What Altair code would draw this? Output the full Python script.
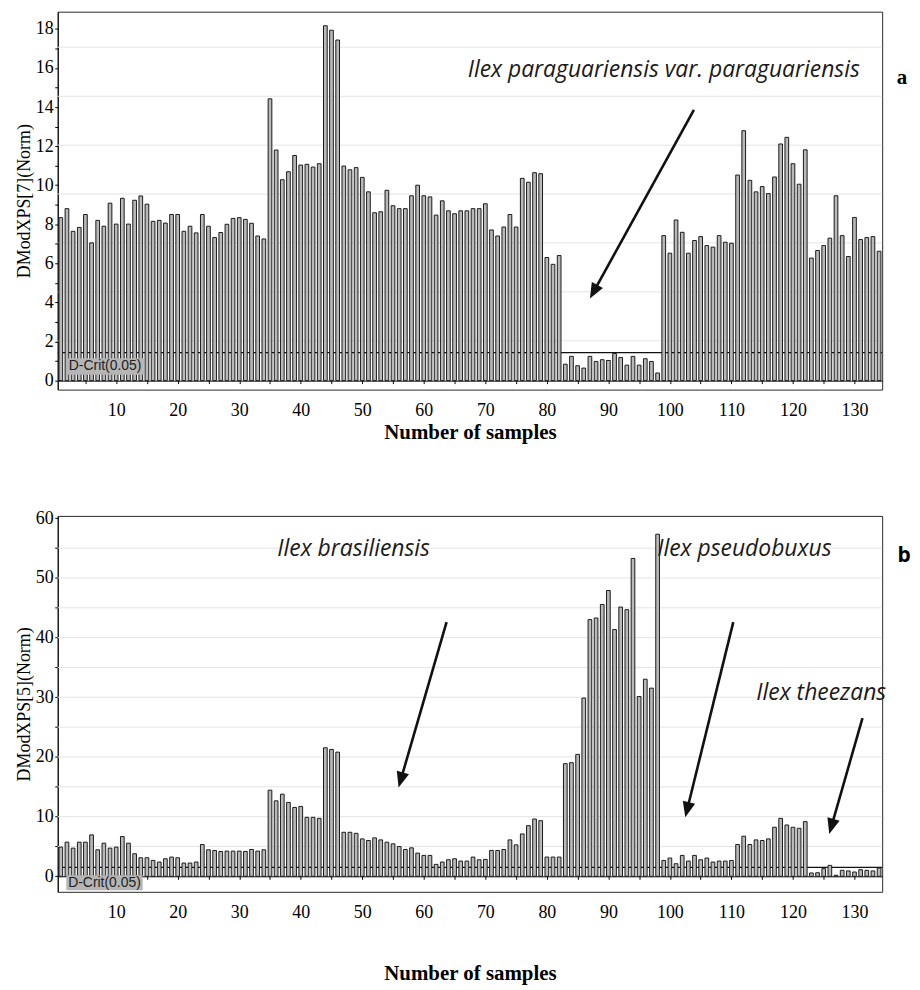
import math
import altair as alt
import pandas as pd

# ---------------- data ----------------
samples = list(range(1, 135))

dmod_a = [
    8.34, 8.80, 7.64, 7.84, 8.50, 7.05, 8.20, 7.90, 9.08, 8.01,
    9.33, 8.01, 9.23, 9.45, 9.03, 8.15, 8.20, 8.06, 8.50, 8.50,
    7.64, 7.90, 7.56, 8.50, 7.90, 7.32, 7.58, 8.00, 8.30, 8.34,
    8.25, 8.05, 7.40, 7.25, 14.42, 11.80, 10.28, 10.69, 11.52, 11.03,
    11.07, 10.93, 11.10, 18.16, 17.93, 17.43, 10.98, 10.79, 10.90, 10.40,
    9.66, 8.59, 8.64, 9.74, 8.95, 8.80, 8.80, 9.46, 10.00, 9.46,
    9.40, 8.47, 9.20, 8.69, 8.54, 8.69, 8.69, 8.80, 8.80, 9.05,
    7.71, 7.40, 7.86, 8.50, 7.86, 10.35, 10.15, 10.64, 10.59, 6.30,
    5.95, 6.40, 0.84, 1.24, 0.76, 0.64, 1.24, 0.98, 1.07, 1.03,
    1.39, 1.18, 0.79, 1.24, 0.79, 1.12, 0.98, 0.39, 7.42, 6.52,
    8.22, 7.59, 6.52, 7.17, 7.37, 6.91, 6.83, 7.42, 7.08, 7.03,
    10.52, 12.79, 10.25, 9.66, 9.93, 9.57, 10.42, 12.11, 12.45, 11.10,
    10.05, 11.81, 6.27, 6.66, 6.91, 7.29, 9.46, 7.42, 6.35, 8.35,
    7.22, 7.32, 7.37, 6.62,
]

dmod_b = [
    4.89, 5.72, 4.72, 5.72, 5.72, 6.94, 4.44, 5.55, 4.72, 4.89,
    6.66, 5.55, 3.78, 3.11, 3.11, 2.66, 2.39, 2.94, 3.22, 3.11,
    2.22, 2.22, 2.39, 5.33, 4.44, 4.33, 4.16, 4.22, 4.22, 4.22,
    4.16, 4.49, 4.22, 4.44, 14.43, 12.65, 13.76, 12.38, 11.54, 11.71,
    9.88, 9.88, 9.71, 21.54, 21.26, 20.81, 7.38, 7.38, 7.20, 6.27,
    6.00, 6.44, 6.10, 5.72, 5.44, 4.99, 4.49, 4.77, 3.88, 3.50,
    3.50, 2.00, 2.39, 2.77, 2.94, 2.55, 2.55, 3.22, 2.77, 2.83,
    4.33, 4.33, 4.49, 6.10, 5.27, 7.10, 8.49, 9.60, 9.32, 3.22,
    3.22, 3.22, 18.88, 19.04, 20.43, 29.87, 43.02, 43.29, 45.56, 47.90,
    41.35, 45.12, 44.68, 53.27, 30.13, 33.03, 31.53, 57.33, 2.66, 3.06,
    2.11, 3.50, 2.55, 3.50, 2.77, 3.06, 2.39, 2.55, 2.55, 2.66,
    5.33, 6.72, 5.33, 6.10, 6.00, 6.27, 8.22, 9.71, 8.60, 8.22,
    8.05, 9.16, 0.56, 0.60, 1.28, 1.83, 0.17, 1.00, 0.90, 0.72,
    1.11, 1.00, 0.90, 1.39,
]

dcrit_a = 1.43
dcrit_b = 1.50
dcrit_label = "D-Crit(0.05)"

grid_a = [2.04, 4.54, 7.05, 9.55, 12.05, 14.55, 17.06]
grid_b = [5, 10, 15, 20, 25, 30, 35, 40, 45, 50, 55]

x_tick_values = list(range(5, 135, 5))
y_tick_values_a = list(range(0, 19))
y_tick_values_b = list(range(0, 61, 5))

ytitle_a = "DModXPS[7](Norm)"
ytitle_b = "DModXPS[5](Norm)"
xtitle = "Number of samples"

species_a = ["Ilex paraguariensis var. paraguariensis"]
species_a_x = [99.0]
species_a_y = [15.9]

species_b = ["Ilex brasiliensis", "Ilex pseudobuxus", "Ilex theezans"]
species_b_x = [48.6, 112.1, 124.6]
species_b_y = [54.9, 54.8, 30.7]

# arrows: start (x0, y0) -> tip (x1, y1), in data units
arrows_a_x0 = [103.9]
arrows_a_y0 = [13.86]
arrows_a_x1 = [87.0]
arrows_a_y1 = [4.2]

arrows_b_x0 = [63.7, 110.3, 131.3]
arrows_b_y0 = [42.6, 42.6, 26.5]
arrows_b_x1 = [55.9, 102.5, 125.9]
arrows_b_y1 = [14.9, 9.9, 7.1]

# ---------------- layout ----------------
W = 829
H_A = 380
H_B = 378
X_DOM = [0.5, 134.5]
Y_DOM_A = [-0.46, 18.88]
Y_DOM_B = [-2.6, 60.4]

SERIF = "Liberation Serif"
SANS = "Liberation Sans"
ANNOT = "Open Sans"
HEAD = "M0,0L-0.9,2.2L0.9,2.2Z"


def panel(values, dcrit, grid, ydom, H, yticks, ylabel_every, ytitle,
          x_offset, x_label_pad, x_title_pad, box, sp_text, sp_x, sp_y,
          ax0, ay0, ax1, ay1, letter, letter_font, letter_x, letter_y):
    xs = alt.Scale(domain=X_DOM, nice=False, zero=False)
    ys = alt.Scale(domain=ydom, nice=False, zero=False)
    kx = W / (X_DOM[1] - X_DOM[0])
    ky = H / (ydom[1] - ydom[0])

    xaxis = alt.Axis(
        values=x_tick_values,
        labelExpr="datum.value % 10 === 0 ? datum.label : ''",
        offset=x_offset, tickSize=3, labelPadding=x_label_pad,
        domainColor="black", tickColor="black", grid=False,
        labelFont=SERIF, labelFontSize=18, labelColor="black",
        labelFlush=False, labelOverlap=False,
        title=xtitle, titleFont=SERIF, titleFontSize=21,
        titleFontWeight="bold", titleColor="black", titlePadding=x_title_pad,
    )
    yaxis = alt.Axis(
        values=yticks,
        labelExpr="datum.value %% %d === 0 ? datum.label : ''" % ylabel_every,
        tickSize=3, labelPadding=1.5, domainColor="black", tickColor="black",
        grid=False, labelFont=SERIF, labelFontSize=18, labelColor="black",
        labelOverlap=False,
        title=ytitle, titleFont=SERIF, titleFontSize=18,
        titleFontWeight="normal", titleColor="black", titlePadding=2,
    )

    def X(f):
        return alt.X(f, scale=xs, axis=xaxis)

    def Y(f):
        return alt.Y(f, scale=ys, axis=yaxis)

    df = pd.DataFrame({"sample": samples, "value": values})

    grid_layer = alt.Chart(pd.DataFrame({"g": grid})).mark_rule(
        color="#e4e4e4", strokeWidth=1
    ).encode(y=Y("g:Q"))

    crit_layer = alt.Chart(pd.DataFrame({"d": [dcrit]})).mark_rule(
        color="#111111", strokeWidth=1.3
    ).encode(y=Y("d:Q"))

    bars = alt.Chart(df).transform_calculate(
        lo="datum.sample - 0.3", hi="datum.sample + 0.3", base="0"
    ).mark_bar(fill="#b9b9b9", stroke="#1a1a1a", strokeWidth=1).encode(
        x=X("lo:Q"),
        x2="hi:Q",
        y=Y("value:Q"),
        y2="base:Q",
    )

    box_df = pd.DataFrame({"bx0": [box[0]], "bx1": [box[1]],
                           "by0": [box[2]], "by1": [box[3]],
                           "tx": [(box[0] + box[1]) / 2],
                           "ty": [(box[2] + box[3]) / 2],
                           "t": [dcrit_label]})
    box_layer = alt.Chart(box_df).mark_rect(fill="#b5b5b5").encode(
        x=X("bx0:Q"), x2="bx1:Q",
        y=Y("by0:Q"), y2="by1:Q",
    )
    box_text = alt.Chart(box_df).mark_text(
        font=SANS, fontSize=14, color="#222222", baseline="middle", align="center"
    ).encode(x=X("tx:Q"), y=Y("ty:Q"), text="t:N")

    sp_df = pd.DataFrame({"t": sp_text, "x": sp_x, "y": sp_y})
    sp_layer = alt.Chart(sp_df).mark_text(
        font=ANNOT, fontStyle="italic", fontSize=23, color="#1a1a1a",
        baseline="middle", align="center"
    ).encode(x=X("x:Q"), y=Y("y:Q"), text="t:N")

    rows = []
    for x0, y0, x1, y1 in zip(ax0, ay0, ax1, ay1):
        dx = (x1 - x0) * kx
        dy = -(y1 - y0) * ky
        L = math.hypot(dx, dy)
        f = 1 - 9.0 / L
        ang = math.degrees(math.atan2(dx, -dy)) % 360
        rows.append({"x0": x0, "y0": y0,
                     "xe": x0 + (x1 - x0) * f, "ye": y0 + (y1 - y0) * f,
                     "x1": x1, "y1": y1, "ang": ang})
    arr_df = pd.DataFrame(rows)
    shafts = alt.Chart(arr_df).mark_rule(
        color="#111111", strokeWidth=2.6, strokeCap="butt"
    ).encode(x=X("x0:Q"), y=Y("y0:Q"), x2="xe:Q", y2="ye:Q")
    heads = alt.Chart(arr_df).mark_point(
        shape=HEAD, filled=True, color="#111111", size=200, opacity=1
    ).encode(
        x=X("x1:Q"), y=Y("y1:Q"),
        angle=alt.Angle("ang:Q", scale=None),
    )

    letter_layer = alt.Chart(pd.DataFrame({"t": [letter]})).mark_text(
        font=letter_font, fontWeight="bold", fontSize=21, color="black",
        baseline="middle", align="center"
    ).encode(x=alt.value(letter_x), y=alt.value(letter_y), text="t:N")

    return alt.layer(
        grid_layer, crit_layer, bars, box_layer, box_text,
        sp_layer, shafts, heads, letter_layer
    ).properties(width=W, height=H)


panel_a = panel(
    dmod_a, dcrit_a, grid_a, Y_DOM_A, H_A, y_tick_values_a, 2, ytitle_a,
    -9, 18, 2, (1.9, 14.5, 0.3, 1.15),
    species_a, species_a_x, species_a_y,
    arrows_a_x0, arrows_a_y0, arrows_a_x1, arrows_a_y1,
    "a", SERIF, 849, 67,
)

panel_b = panel(
    dmod_b, dcrit_b, grid_b, Y_DOM_B, H_B, y_tick_values_b, 10, ytitle_b,
    -15.6, 24, 42, (1.9, 14.3, -2.33, 0.17),
    species_b, species_b_x, species_b_y,
    arrows_b_x0, arrows_b_y0, arrows_b_x1, arrows_b_y1,
    "b", ANNOT, 851, 40,
)

chart = alt.vconcat(panel_a, panel_b, spacing=127, bounds="flush").properties(
    padding={"left": 7, "top": 0, "right": 0, "bottom": 0},
    background="white",
).configure_view(stroke="#2a2a2a", strokeWidth=1)

chart.save("out.html", embed_options={"renderer": "svg", "actions": False})
